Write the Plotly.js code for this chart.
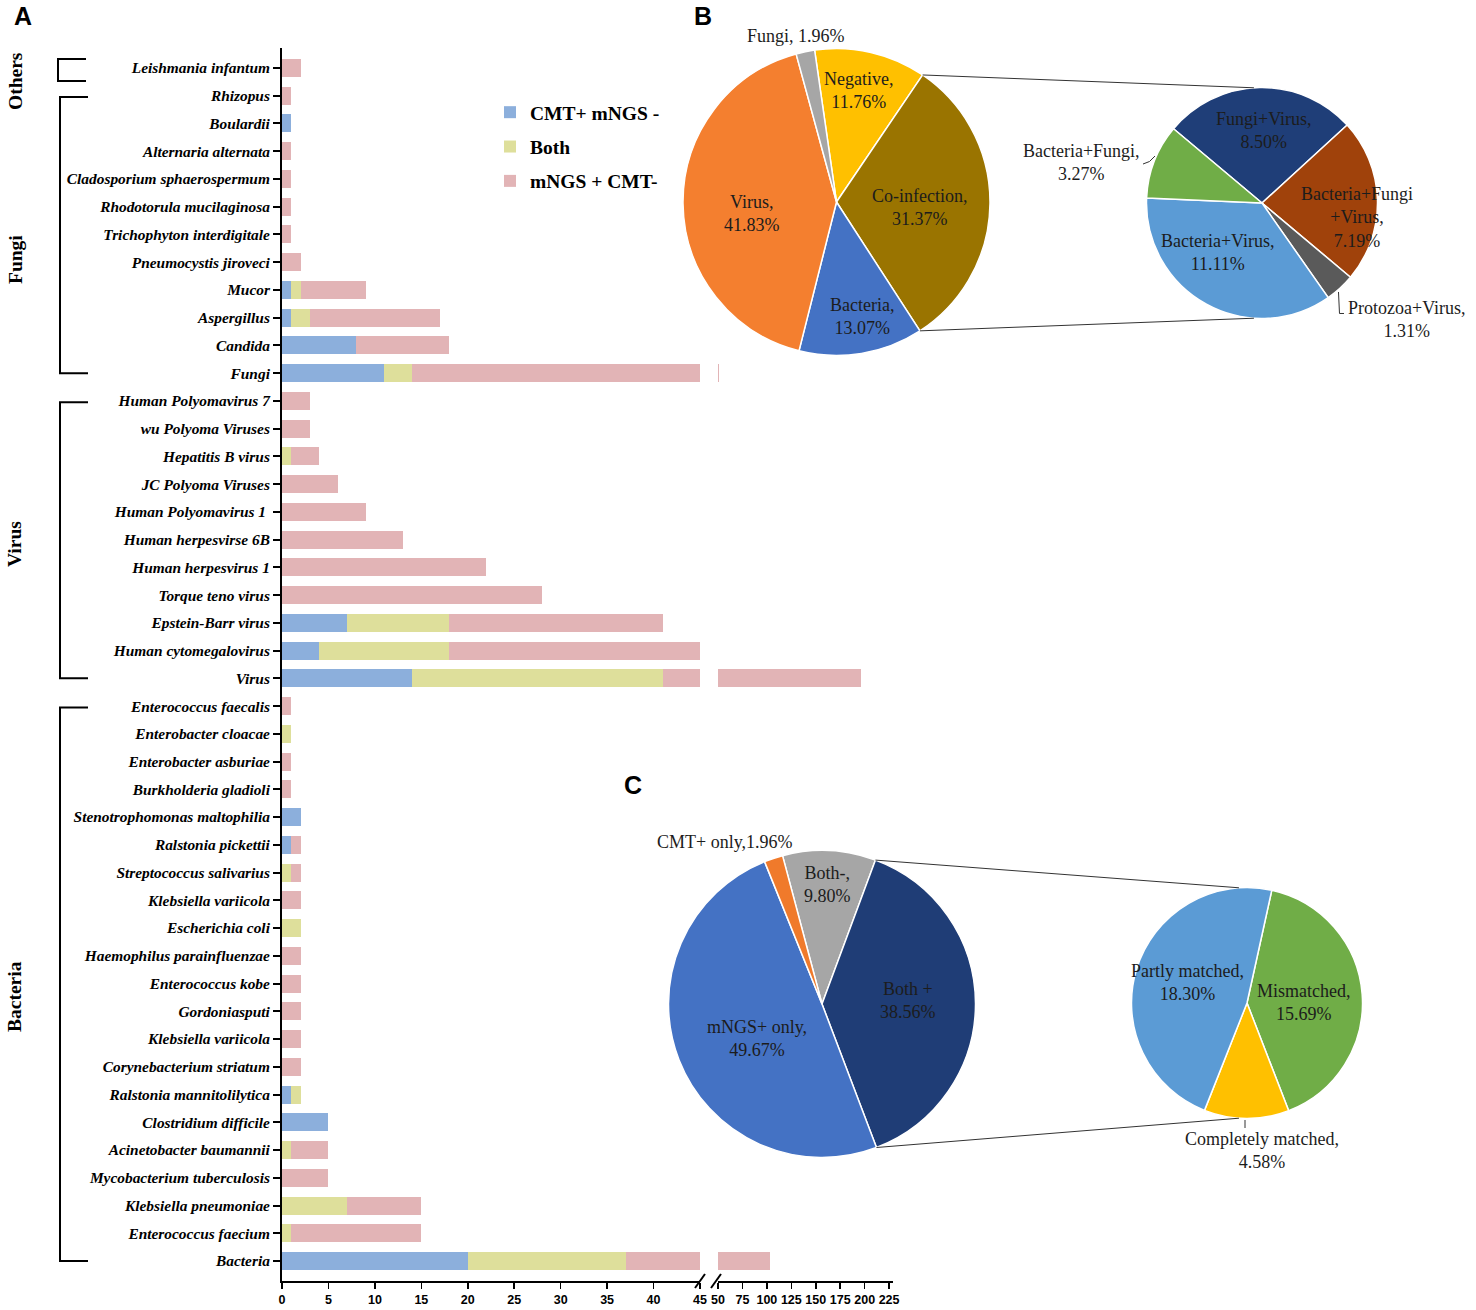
<!DOCTYPE html>
<html><head><meta charset="utf-8">
<script src="https://cdn.plot.ly/plotly-3.0.1.min.js"></script>
<style>html,body{margin:0;padding:0;background:#fff}#chart{width:1476px;height:1310px}</style>
</head><body><div id="chart"></div>
<script>
// ---------------- DATA ----------------
const categories = [
  'Leishmania infantum',
  'Rhizopus','Boulardii','Alternaria alternata','Cladosporium sphaerospermum','Rhodotorula mucilaginosa',
  'Trichophyton interdigitale','Pneumocystis jiroveci','Mucor','Aspergillus','Candida','Fungi',
  'Human Polyomavirus 7','wu Polyoma Viruses','Hepatitis B virus','JC Polyoma Viruses','Human Polyomavirus 1 ',
  'Human herpesvirse 6B','Human herpesvirus 1','Torque teno virus','Epstein-Barr virus','Human cytomegalovirus','Virus',
  'Enterococcus faecalis','Enterobacter cloacae','Enterobacter asburiae','Burkholderia gladioli','Stenotrophomonas maltophilia',
  'Ralstonia pickettii','Streptococcus salivarius','Klebsiella variicola','Escherichia coli','Haemophilus parainfluenzae',
  'Enterococcus kobe','Gordoniasputi','Klebsiella variicola','Corynebacterium striatum','Ralstonia mannitolilytica',
  'Clostridium difficile','Acinetobacter baumannii','Mycobacterium tuberculosis','Klebsiella pneumoniae','Enterococcus faecium','Bacteria'
];
const cmtOnly  = [0, 0,1,0,0,0,0,0,1,1,8,11, 0,0,0,0,0,0,0,0,7,4,14, 0,0,0,0,2,1,0,0,0,0,0,0,0,0,1,5,0,0,0,0,20];
const both     = [0, 0,0,0,0,0,0,0,1,2,0,3,  0,0,1,0,0,0,0,0,11,14,27, 0,1,0,0,0,0,1,0,2,0,0,0,0,0,1,0,1,0,7,1,17];
const mngsOnly = [2, 1,0,1,1,1,1,2,7,14,10,37, 3,3,3,6,9,13,22,28,23,27,155, 1,0,1,1,0,1,1,2,0,2,2,2,2,2,0,0,4,5,8,14,66];
const seriesNames = ['CMT+ mNGS -','Both','mNGS + CMT-'];

const groupNames = ['Others','Fungi','Virus','Bacteria'];
const groupFirst = [0, 1, 12, 23];
const groupLast  = [0, 11, 22, 43];

const axis1Ticks = [0,5,10,15,20,25,30,35,40,45];
const axis2Ticks = [50,75,100,125,150,175,200,225];

const pieBLabels = ['Negative','Co-infection','Bacteria','Virus','Fungi'];
const pieBValues = [11.76, 31.37, 13.07, 41.83, 1.96];
const subBLabels = ['Fungi+Virus','Bacteria+Fungi+Virus','Protozoa+Virus','Bacteria+Virus','Bacteria+Fungi'];
const subBValues = [8.50, 7.19, 1.31, 11.11, 3.27];
const pieCLabels = ['Both-','Both +','mNGS+ only','CMT+ only'];
const pieCValues = [9.80, 38.56, 49.67, 1.96];
const subCLabels = ['Mismatched','Completely matched','Partly matched'];
const subCValues = [15.69, 4.58, 18.30];

// ---------------- STYLE / LAYOUT ----------------
const W = 1476, H = 1310;
const px = x => x / W;
const py = y => 1 - y / H;
const barColors = ['#8CAFDC', '#DEDF9B', '#E2B4B6'];
const serif = 'Liberation Serif, Times New Roman, serif';
const sans = 'Liberation Sans, Arial, sans-serif';
const txtColor = '#1c1c1c';

const pieGeom = {
  B:  {cx: 836.5, cy: 202, r: 153.5, rot: -8.2},
  Bs: {cx: 1262, cy: 203, r: 115.5, rot: -50},
  C:  {cx: 822, cy: 1004, r: 153.5, rot: -14.9},
  Cs: {cx: 1247, cy: 1003, r: 115.5, rot: 12.4}
};
const pieColors = {
  B:  ['#FFC000', '#9A7400', '#4472C4', '#F47F2F', '#A6A6A6'],
  Bs: ['#1F3E78', '#A0420B', '#5A5A5A', '#5B9BD5', '#70AD47'],
  C:  ['#A6A6A6', '#1F3D76', '#4472C4', '#F07A2B'],
  Cs: ['#70AD47', '#FFC000', '#5B9BD5']
};
const std = (l, v) => `${l},<br>${v}%`;
const pieTextFmt = {
  B:  [std, std, std, std, (l, v) => `${l}, ${v}%`],
  Bs: [std, (l, v) => `${l.replace('+Virus', '<br>+Virus')},<br>${v}%`, std, std, std],
  C:  [std, (l, v) => `${l}<br>${v}%`, std, (l, v) => `${l},${v}%`],
  Cs: [std, std, std]
};
const pieTextPos = {
  B:  [[858, 90], [920, 208], [862, 317], [752, 213], [796, 36]],
  Bs: [[1264, 131], [1357, 218], [1407, 320], [1218, 253], [1081, 162]],
  C:  [[827, 884], [908, 1000], [757, 1038], [724, 842]],
  Cs: [[1303, 1002], [1262, 1150], [1187, 982]]
};
const groupLabelY = [81, 260, 544, 997];

// ---------------- BUILD ----------------
const rows = categories.map((_, i) => i);
const seriesVals = [cmtOnly, both, mngsOnly];
const traces = [];
['x', 'x2'].forEach((xa, k) => {
  seriesVals.forEach((vals, s) => {
    traces.push({
      type: 'bar', orientation: 'h', x: vals, y: rows, name: seriesNames[s],
      xaxis: xa, yaxis: 'y', marker: {color: barColors[s]},
      legendgroup: 'g' + s, showlegend: k === 0,
      hovertemplate: '%{x}<extra>' + seriesNames[s] + '</extra>'
    });
  });
});

function pieTrace(key, labels, values) {
  const g = pieGeom[key];
  return {
    type: 'pie', labels: labels, values: values, sort: false, direction: 'clockwise',
    rotation: g.rot, textinfo: 'none', showlegend: false, hoverinfo: 'label+value',
    marker: {colors: pieColors[key], line: {color: '#ffffff', width: 1.5}},
    domain: {x: [px(g.cx - g.r), px(g.cx + g.r)], y: [py(g.cy + g.r), py(g.cy - g.r)]}
  };
}
traces.push(pieTrace('B', pieBLabels, pieBValues));
traces.push(pieTrace('Bs', subBLabels, subBValues));
traces.push(pieTrace('C', pieCLabels, pieCValues));
traces.push(pieTrace('Cs', subCLabels, subCValues));

const annotations = [];
function pieAnnots(key, labels, values) {
  labels.forEach((l, i) => {
    const p = pieTextPos[key][i];
    annotations.push({
      xref: 'paper', yref: 'paper', x: px(p[0]), y: py(p[1]), xanchor: 'center', yanchor: 'middle',
      text: pieTextFmt[key][i](l, values[i].toFixed(2)), showarrow: false,
      font: {family: serif, size: 18, color: txtColor}
    });
  });
}
pieAnnots('B', pieBLabels, pieBValues);
pieAnnots('Bs', subBLabels, subBValues);
pieAnnots('C', pieCLabels, pieCValues);
pieAnnots('Cs', subCLabels, subCValues);

// group labels
groupNames.forEach((g, i) => {
  annotations.push({
    xref: 'paper', yref: 'paper', x: px(15), y: py(groupLabelY[i]), textangle: -90,
    xanchor: 'center', yanchor: 'middle', showarrow: false, text: '<b>' + g + '</b>',
    font: {family: serif, size: 19.5, color: '#000'}
  });
});
// panel letters
[['A', 23, 16], ['B', 703, 16], ['C', 633, 785]].forEach(([t, x, y]) => {
  annotations.push({xref: 'paper', yref: 'paper', x: px(x), y: py(y), xanchor: 'center', yanchor: 'middle',
    showarrow: false, text: '<b>' + t + '</b>', font: {family: sans, size: 25, color: '#000'}});
});

const shapes = [];
const pathFrom = pts => pts.map((p, i) => (i ? 'L' : 'M') + px(p[0]).toFixed(5) + ',' + py(p[1]).toFixed(5)).join(' ');
function line(pts, w, c) {
  shapes.push({type: 'path', xref: 'paper', yref: 'paper', path: pathFrom(pts), line: {color: c || '#000', width: w}});
}
// brackets
groupNames.forEach((g, i) => {
  const isSingle = groupFirst[i] === groupLast[i];
  const y0 = isSingle ? groupFirst[i] - 0.32 : groupFirst[i] + 0.05;
  const y1 = isSingle ? groupLast[i] + 0.47 : groupLast[i];
  const xv = isSingle ? px(58) : px(60), xa = isSingle ? px(86) : px(88);
  shapes.push({type: 'path', xref: 'paper', yref: 'y',
    path: `M${xa},${y0} L${xv},${y0} L${xv},${y1} L${xa},${y1}`, line: {color: '#000', width: 2}});
});
// axis break marks
line([[695, 1288], [705, 1274]], 2);
line([[711, 1288], [721, 1274]], 2);

// connectors between main pies and sub pies
function edge(g, ang) {
  const a = ang * Math.PI / 180;
  return [g.cx + g.r * Math.sin(a), g.cy - g.r * Math.cos(a)];
}
function sliceAngles(key, values, idx) {
  const tot = values.reduce((a, b) => a + b, 0);
  let cum = 0;
  for (let i = 0; i < idx; i++) cum += values[i];
  const a0 = pieGeom[key].rot + 360 * cum / tot;
  return [a0, a0 + 360 * values[idx] / tot];
}
function connectors(mainKey, values, idx, subKey) {
  const [a0, a1] = sliceAngles(mainKey, values, idx);
  const m = pieGeom[mainKey], s = pieGeom[subKey];
  line([edge(m, a0), edge(s, -4)], 1, '#333');
  line([edge(m, a1), edge(s, 184)], 1, '#333');
}
connectors('B', pieBValues, pieBLabels.indexOf('Co-infection'), 'Bs');
connectors('C', pieCValues, pieCLabels.indexOf('Both +'), 'Cs');
// label leader lines
shapes.push({type: 'path', xref: 'paper', yref: 'paper',
  path: `M${px(1143)},${py(164)} Q${px(1150)},${py(163)} ${px(1155)},${py(156)}`, line: {color: '#333', width: 1}});
line([[1338.5, 292], [1339.5, 313.5], [1344, 313.5]], 1, '#333');
line([[1245, 1120], [1245, 1128]], 1, '#333');

const axCommon = {
  showline: true, linecolor: '#000', linewidth: 2, ticks: 'outside', tickcolor: '#000',
  ticklen: 6, tickwidth: 1.5, showgrid: false, zeroline: false, anchor: 'y', fixedrange: true,
  tickfont: {family: sans, size: 12.5, weight: 'bold', color: '#000'}, tickmode: 'array'
};
const layout = {
  width: W, height: H, margin: {l: 0, r: 0, t: 0, b: 0},
  paper_bgcolor: '#fff', plot_bgcolor: 'rgba(0,0,0,0)',
  barmode: 'stack', bargap: 0.35,
  xaxis: Object.assign({}, axCommon, {domain: [px(282), px(700)], range: [0, 45], tickvals: axis1Ticks}),
  xaxis2: Object.assign({}, axCommon, {domain: [px(718), px(893)], range: [50, 229], tickvals: axis2Ticks}),
  yaxis: {
    domain: [py(1281), py(48)], range: [43.72, -0.72], tickmode: 'array', tickvals: rows, ticktext: categories,
    showline: true, linecolor: '#000', linewidth: 2, ticks: 'outside', ticklen: 7, tickwidth: 2, tickcolor: '#000',
    showgrid: false, zeroline: false, fixedrange: true,
    tickfont: {family: serif, size: 15.4, weight: 'bold', style: 'italic', color: '#000'}
  },
  showlegend: true,
  legend: {x: px(490), y: py(93), xanchor: 'left', yanchor: 'top', bgcolor: 'rgba(0,0,0,0)',
    font: {family: serif, size: 19.5, weight: 'bold', color: '#000'}, tracegroupgap: 6, traceorder: 'grouped'},
  annotations: annotations, shapes: shapes
};
Plotly.newPlot('chart', traces, layout, {displayModeBar: false, staticPlot: true});
</script></body></html>
